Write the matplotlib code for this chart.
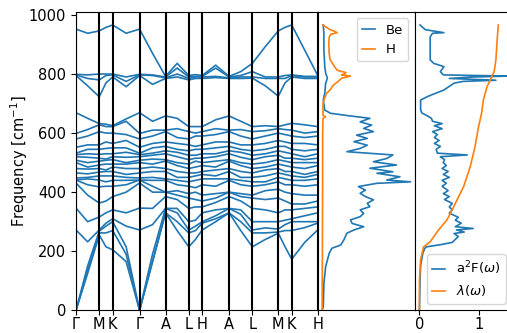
import numpy as np
import matplotlib
matplotlib.use("Agg")
import matplotlib.pyplot as plt

plt.rcParams["font.size"] = 10.5

# --- phonon band structure -------------------------------------------------
kpath_labels = ["Γ", "M", "K", "Γ", "A", "L", "H", "A", "L", "M", "K", "H"]
segment_lengths = [1.0, 0.577, 1.155, 1.116, 1.0, 0.577, 1.155, 1.0, 1.116, 0.577, 1.116]

# frequencies (cm^-1) sampled at each high-symmetry point and segment midpoint
# rows: Γ, m, M, m, K, m, Γ, m, A, m, L, m, H, m, A, m, L, m, M, m, K, m, H
low_branches = [
    [0, 0, 0, 272, 346],
    [125, 135, 150, 232, 300],
    [255, 262, 268, 272, 316],
    [215, 262, 285, 295, 330],
    [205, 270, 300, 310, 340],
    [165, 190, 215, 285, 330],
    [0, 0, 0, 272, 346],
    [165, 165, 190, 290, 345],
    [330, 330, 345, 345, 385],
    [270, 300, 330, 345, 375],
    [215, 262, 272, 300, 345],
    [240, 270, 285, 305, 350],
    [272, 295, 300, 330, 350],
    [300, 310, 320, 340, 365],
    [330, 330, 345, 345, 385],
    [270, 300, 325, 340, 370],
    [215, 262, 272, 300, 345],
    [240, 262, 279, 300, 340],
    [261, 265, 275, 300, 330],
    [215, 270, 290, 305, 340],
    [173, 270, 300, 310, 340],
    [230, 280, 300, 320, 345],
    [272, 295, 300, 330, 350],
]
mid_branches = [
    [431, 441, 441, 448, 465, 480, 500, 508, 520, 527, 532, 552, 580, 599, 669],
    [390, 425, 445, 450, 462, 478, 485, 500, 518, 530, 545, 560, 590, 612, 650],
    [363, 418, 441, 455, 468, 480, 492, 505, 515, 528, 545, 560, 605, 628, 632],
    [370, 420, 435, 455, 470, 475, 495, 508, 512, 530, 548, 570, 600, 622, 630],
    [385, 420, 440, 455, 470, 485, 495, 510, 520, 530, 550, 565, 600, 622, 625],
    [400, 425, 440, 450, 460, 480, 495, 500, 518, 535, 550, 575, 595, 640, 648],
    [431, 441, 441, 448, 465, 480, 500, 508, 520, 527, 532, 552, 580, 599, 669],
    [400, 420, 440, 450, 470, 485, 495, 512, 525, 532, 550, 565, 590, 610, 640],
    [400, 400, 440, 445, 470, 480, 505, 510, 530, 540, 555, 570, 605, 610, 658],
    [390, 405, 425, 440, 450, 470, 490, 500, 520, 535, 545, 565, 585, 615, 650],
    [380, 395, 420, 435, 450, 465, 480, 495, 510, 525, 540, 560, 580, 605, 622],
    [375, 400, 415, 440, 455, 465, 485, 505, 515, 525, 545, 555, 590, 600, 622],
    [370, 390, 425, 445, 460, 470, 490, 500, 515, 530, 545, 560, 590, 605, 622],
    [380, 395, 420, 445, 455, 475, 485, 505, 520, 530, 550, 570, 595, 615, 645],
    [400, 400, 440, 445, 470, 480, 505, 510, 530, 540, 555, 570, 605, 610, 658],
    [385, 395, 425, 440, 450, 470, 490, 500, 518, 535, 545, 560, 590, 612, 640],
    [380, 390, 420, 435, 450, 465, 480, 495, 510, 525, 540, 560, 580, 605, 622],
    [375, 405, 425, 435, 455, 475, 485, 500, 520, 530, 545, 565, 590, 608, 625],
    [380, 410, 435, 450, 465, 480, 495, 510, 525, 540, 555, 575, 600, 615, 622],
    [370, 400, 425, 445, 460, 470, 490, 505, 515, 535, 555, 570, 595, 612, 628],
    [360, 395, 425, 440, 455, 470, 485, 500, 515, 530, 545, 565, 590, 610, 633],
    [360, 390, 420, 440, 450, 460, 480, 500, 510, 520, 540, 565, 585, 600, 628],
    [370, 390, 425, 445, 460, 470, 490, 500, 515, 530, 545, 560, 590, 605, 622],
]
high_branches = [
    [795, 797, 799, 952],
    [760, 785, 797, 938],
    [723, 780, 800, 946],
    [770, 795, 800, 958],
    [790, 797, 800, 966],
    [757, 775, 790, 938],
    [795, 797, 799, 952],
    [765, 795, 797, 870],
    [785, 787, 790, 792],
    [790, 800, 820, 836],
    [780, 785, 790, 795],
    [785, 790, 792, 798],
    [785, 790, 792, 795],
    [788, 792, 820, 830],
    [785, 787, 790, 792],
    [785, 790, 795, 808],
    [786, 790, 808, 836],
    [760, 785, 790, 893],
    [725, 785, 790, 946],
    [770, 785, 795, 958],
    [790, 795, 797, 966],
    [785, 790, 792, 881],
    [785, 790, 792, 795],
]

# --- projected phonon DOS ------------------------------------------------
be_freq = [0, 12, 91, 148, 193, 210, 221, 238, 261, 272, 283, 294, 306, 317, 328,
           340, 351, 362, 374, 385, 396, 407, 419, 430, 435, 441, 452, 464, 469,
           481, 492, 503, 514, 526, 537, 548, 559, 571, 582, 593, 605, 616, 627,
           638, 650, 658, 667, 678, 712, 735, 769, 786, 803, 825, 882, 938, 966]
be_dos = [0.0, 0.013, 0.02, 0.04, 0.08, 0.11, 0.21, 0.245, 0.28, 0.36, 0.47, 0.34,
          0.32, 0.43, 0.47, 0.43, 0.54, 0.51, 0.58, 0.49, 0.43, 0.49, 0.41, 0.62,
          1.0, 0.73, 0.88, 0.62, 0.80, 0.54, 0.84, 0.58, 0.73, 0.80, 0.28, 0.43,
          0.51, 0.36, 0.51, 0.39, 0.58, 0.47, 0.56, 0.43, 0.54, 0.32, 0.095, 0.03,
          0.013, 0.03, 0.04, 0.06, 0.04, 0.03, 0.02, 0.02, 0.013]
h_freq = [0, 200, 400, 600, 650, 655, 660, 700, 712, 735, 746, 760, 770, 780, 786,
          790, 793, 797, 800, 805, 810, 813, 825, 835, 848, 870, 900, 925, 935,
          940, 945, 950, 960, 966]
h_dos = [0.0, 0.003, 0.005, 0.006, 0.01, 0.04, 0.01, 0.01, 0.02, 0.05, 0.09, 0.12,
         0.16, 0.2, 0.22, 0.28, 0.32, 0.22, 0.25, 0.27, 0.2, 0.17, 0.14, 0.12, 0.09,
         0.08, 0.075, 0.08, 0.1, 0.17, 0.14, 0.09, 0.04, 0.01]

# --- Eliashberg function and cumulative coupling -------------------------
a2f_freq = [0, 100, 150, 175, 195, 210, 215, 222, 230, 240, 250, 260, 265, 272,
            277, 283, 295, 305, 315, 329, 340, 350, 362, 375, 385, 395, 405, 420,
            430, 440, 450, 460, 470, 480, 490, 500, 510, 520, 526, 532, 545, 555,
            565, 575, 585, 595, 605, 615, 625, 632, 640, 650, 660, 668, 680, 712,
            725, 746, 769, 775, 779, 785, 790, 793, 797, 808, 825, 836, 848, 926,
            938, 940, 950, 966]
a2f = [0.0, 0.01, 0.02, 0.04, 0.06, 0.09, 0.12, 0.35, 0.55, 0.6, 0.65, 0.58, 0.75,
       0.62, 0.9, 0.6, 0.7, 0.6, 0.65, 0.5, 0.55, 0.5, 0.55, 0.42, 0.5, 0.4, 0.48,
       0.38, 0.45, 0.38, 0.5, 0.4, 0.48, 0.38, 0.45, 0.4, 0.42, 0.35, 0.8, 0.3,
       0.28, 0.35, 0.25, 0.33, 0.25, 0.3, 0.22, 0.38, 0.25, 0.38, 0.22, 0.2, 0.12,
       0.04, 0.02, 0.02, 0.15, 0.41, 0.58, 0.73, 1.28, 0.5, 0.9, 1.48, 0.4, 0.35,
       0.41, 0.24, 0.18, 0.18, 0.22, 0.41, 0.1, 0.01]
lam_freq = [0, 100, 172, 215, 232, 272, 306, 329, 374, 419, 486, 554, 622, 667,
            712, 757, 786, 808, 848, 915, 966]
lam = [0.0, 0.0, 0.02, 0.07, 0.18, 0.32, 0.46, 0.52, 0.63, 0.74, 0.85, 0.93, 0.99,
       1.04, 1.07, 1.13, 1.2, 1.25, 1.28, 1.3, 1.32]

# --- k-axis coordinates -----------------------------------------------------
ticks = np.concatenate([[0.0], np.cumsum(segment_lengths)])
kx = []
for i in range(len(segment_lengths)):
    kx += [ticks[i], 0.5 * (ticks[i] + ticks[i + 1])]
kx.append(ticks[-1])
bands = np.sort(np.hstack([low_branches, mid_branches, high_branches]), axis=1)

W, H = 507, 333
bottom = 1 - 310.3 / H
height = (310.3 - 11.7) / H
fig = plt.figure(figsize=(W / 100, H / 100), dpi=100)
ax1 = fig.add_axes([76 / W, bottom, (317.7 - 76) / W, height])
ax2 = fig.add_axes([317.7 / W, bottom, (415 - 317.7) / W, height], sharey=ax1)
# last panel is as wide as the DOS one and runs past the right edge of the figure
ax3 = fig.add_axes([415 / W, bottom, (415 - 317.7) / W, height], sharey=ax1)

ax1.plot(kx, bands, color="tab:blue", lw=1.2)
for t in ticks:
    ax1.axvline(t, color="black", lw=1.5)
ax1.set_xlim(ticks[0], ticks[-1])
ax1.set_ylim(0, 1011)
ax1.set_xticks(ticks)
ax1.set_xticklabels(kpath_labels)
ax1.tick_params(axis="x", pad=1.5)
ax1.set_ylabel("Frequency [cm$^{-1}$]")
ax1.yaxis.set_label_coords(-0.19, 0.5)

ax2.plot(be_dos, be_freq, color="tab:blue", lw=1.2, label="Be")
ax2.plot(h_dos, h_freq, color="tab:orange", lw=1.2, label="H")
ax2.set_xticks([])
ax2.tick_params(left=False, labelleft=False)
ax2.legend(loc="upper right", fontsize=9.5, handlelength=1.0)

ax3.plot(a2f, a2f_freq, color="tab:blue", lw=1.2, label="a$^2$F($\\omega$)")
ax3.plot(lam, lam_freq, color="tab:orange", lw=1.2, label="$\\lambda(\\omega)$")
ax3.set_xticks([0, 1])
ax3.tick_params(axis="x", pad=1.5)
ax3.tick_params(left=False, labelleft=False)
ax3.legend(loc="lower right", fontsize=9.5, handlelength=1.0)

fig.savefig("out.png", dpi=100)
